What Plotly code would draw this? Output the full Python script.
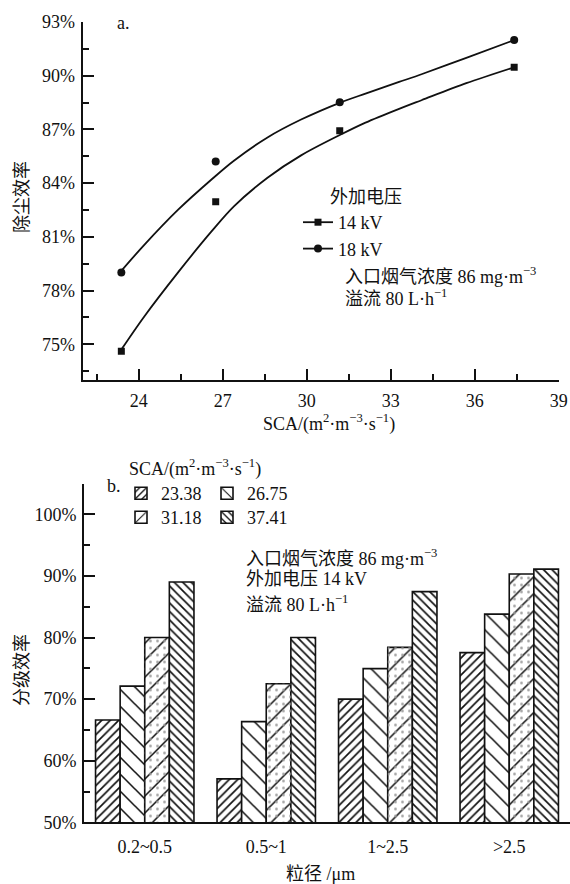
import plotly.graph_objects as go

W, H = 570, 884
FONT = "Liberation Serif, Noto Sans CJK SC"
INK = "#111111"

# ---------------- panel a data ----------------
sca = [23.38, 26.75, 31.18, 37.41]
eff_14kv = [74.6, 82.96, 86.92, 90.47]
eff_18kv = [79.0, 85.21, 88.52, 91.99]

# fitted curves
fit_x = [23.38, 24.2, 25.4, 26.6, 27.4, 28.6, 29.8, 31.2, 32.1, 33.3, 34.1, 35.7, 37.41]
fit_14kv = [74.7, 76.55, 79.0, 81.3, 82.7, 84.3, 85.55, 86.7, 87.38, 88.15, 88.63, 89.58, 90.47]
fit_18kv = [79.1, 80.55, 82.5, 84.2, 85.25, 86.55, 87.55, 88.5, 89.0, 89.65, 90.08, 91.0, 91.99]

# ---------------- panel b data ----------------
size_ranges = ["0.2~0.5", "0.5~1", "1~2.5", ">2.5"]
sca_levels = ["23.38", "26.75", "31.18", "37.41"]
eff_2338 = [66.6, 57.05, 70.0, 77.55]
eff_2675 = [72.1, 66.35, 74.95, 83.8]
eff_3118 = [80.0, 72.5, 78.4, 90.3]
eff_3741 = [89.0, 80.0, 87.45, 91.1]


def px_x(p):
    return p / W


def px_y(p):
    return 1 - p / H


def with_gaps(vals):
    out = []
    for i, v in enumerate(vals):
        if i:
            out.append(None)
        out.append(v)
    return out


fig = go.Figure()

# fitted curves
for fy in (fit_14kv, fit_18kv):
    fig.add_trace(go.Scatter(x=fit_x, y=fy, mode="lines", showlegend=False,
                             line=dict(color=INK, width=1.8, shape="spline", smoothing=0.9),
                             xaxis="x", yaxis="y", hoverinfo="skip"))

# measured points (gaps so that only the legend shows a line)
for name, vals, sym, sz in (("14 kV", eff_14kv, "square", 7), ("18 kV", eff_18kv, "circle", 8)):
    fig.add_trace(go.Scatter(x=with_gaps(sca), y=with_gaps(vals), name=name,
                             mode="lines+markers", connectgaps=False,
                             line=dict(color=INK, width=1.8),
                             marker=dict(symbol=sym, size=sz, color=INK),
                             xaxis="x", yaxis="y", legend="legend"))

# bars
bar_vals = [eff_2338, eff_2675, eff_3118, eff_3741]
patterns = [
    dict(shape="/", size=6, solidity=0.28, fgcolor=INK, bgcolor="white", fillmode="replace"),
    dict(shape="\\", size=12, solidity=0.13, fgcolor=INK, bgcolor="white", fillmode="replace"),
    dict(shape="/", size=12, solidity=0.13, fgcolor=INK, bgcolor="white", fillmode="replace"),
    dict(shape="\\", size=6, solidity=0.28, fgcolor=INK, bgcolor="white", fillmode="replace"),
]
legends_b = ["legend2", "legend2", "legend3", "legend3"]
for i, (lvl, vals) in enumerate(zip(sca_levels, bar_vals)):
    fig.add_trace(go.Bar(x=size_ranges, y=vals, name=lvl, offsetgroup=str(i),
                         marker=dict(color="white", line=dict(color=INK, width=1.6),
                                     pattern=patterns[i]),
                         xaxis="x2", yaxis="y2", legend=legends_b[i]))
# light dotted texture on the 31.18 bars
fig.add_trace(go.Bar(x=size_ranges, y=eff_3118, offsetgroup="2", showlegend=False,
                     marker=dict(color="rgba(0,0,0,0)", line=dict(width=0),
                                 pattern=dict(shape=".", size=7, solidity=0.12,
                                              fgcolor="#9a9a9a", bgcolor="rgba(0,0,0,0)",
                                              fillmode="replace")),
                     xaxis="x2", yaxis="y2", hoverinfo="skip"))

tickfont = dict(family=FONT, size=18, color=INK)
axis_common = dict(showline=True, linecolor=INK, linewidth=2, showgrid=False, zeroline=False,
                   ticks="inside", tickcolor=INK, tickwidth=2, ticklen=11,
                   tickfont=tickfont, automargin=False, mirror=False)

fig.update_layout(
    width=W, height=H, autosize=False,
    margin=dict(l=0, r=0, t=0, b=0),
    paper_bgcolor="white", plot_bgcolor="rgba(0,0,0,0)",
    font=dict(family=FONT, size=18, color=INK),
    barmode="group", bargap=0.19, bargroupgap=0,
    xaxis=dict(domain=[px_x(82.7), px_x(558.7)], range=[22, 39], tick0=24, dtick=3,
               minor=dict(dtick=1.5, ticks="inside", ticklen=6, tickwidth=2, tickcolor=INK),
               ticklabelstandoff=3, anchor="y", **axis_common),
    yaxis=dict(domain=[px_y(380), px_y(22)], range=[73, 93], tick0=75, dtick=3,
               ticksuffix="%",
               minor=dict(dtick=1.5, ticks="inside", ticklen=6, tickwidth=2, tickcolor=INK),
               ticklabelstandoff=2, anchor="x", **axis_common),
    xaxis2=dict(domain=[px_x(84), 1.0], range=[-0.5, 3.5], type="category",
                anchor="y2", showline=True, linecolor=INK, linewidth=2, showgrid=False,
                zeroline=False, ticks="", tickfont=tickfont, automargin=False,
                ticklabelstandoff=7),
    yaxis2=dict(domain=[px_y(822.3), px_y(483.5)], range=[50, 105], tick0=50, dtick=10,
                ticksuffix="%",
                minor=dict(dtick=5, ticks="inside", ticklen=6, tickwidth=2, tickcolor=INK),
                ticklabelstandoff=2, anchor="x2", **axis_common),
    legend=dict(x=px_x(298), y=px_y(204), xanchor="left", yanchor="top",
                bgcolor="rgba(0,0,0,0)", font=dict(family=FONT, size=18, color=INK),
                tracegroupgap=0, itemclick=False),
    legend2=dict(x=px_x(121), y=px_y(475), xanchor="left", yanchor="top", orientation="h",
                 entrywidth=41, entrywidthmode="pixels",
                 bgcolor="rgba(0,0,0,0)", font=dict(family=FONT, size=18, color=INK)),
    legend3=dict(x=px_x(121), y=px_y(499), xanchor="left", yanchor="top", orientation="h",
                 entrywidth=41, entrywidthmode="pixels",
                 bgcolor="rgba(0,0,0,0)", font=dict(family=FONT, size=18, color=INK)),
)

ann = []


def text(t, x, y, xanchor="left", angle=0):
    ann.append(dict(text=t, x=px_x(x), y=px_y(y), xref="paper", yref="paper",
                    xanchor=xanchor, yanchor="middle", showarrow=False, textangle=angle,
                    font=dict(family=FONT, size=18, color=INK)))


# panel a texts
text("a.", 115, 23)
text("除尘效率", 22, 197, xanchor="center", angle=-90)
text("SCA/(m<sup>2</sup>·m<sup>−3</sup>·s<sup>−1</sup>)", 329, 423, xanchor="center")
text("外加电压", 328, 197)
text("入口烟气浓度 86 mg·m<sup>−3</sup>", 343, 275)
text("溢流 80 L·h<sup>−1</sup>", 343, 297)

# panel b texts
text("SCA/(m<sup>2</sup>·m<sup>−3</sup>·s<sup>−1</sup>)", 195, 468, xanchor="center")
text("b.", 105, 486)
text("分级效率", 22, 670, xanchor="center", angle=-90)
text("入口烟气浓度 86 mg·m<sup>−3</sup>", 244, 557)
text("外加电压 14 kV", 244, 579)
text("溢流 80 L·h<sup>−1</sup>", 244, 603)
text("粒径 /μm", 320, 874, xanchor="center")

fig.update_layout(annotations=ann)

fig.write_html("out.html", config={"displayModeBar": False},
               post_script="document.body.style.margin='0';document.body.style.overflow='hidden';")
